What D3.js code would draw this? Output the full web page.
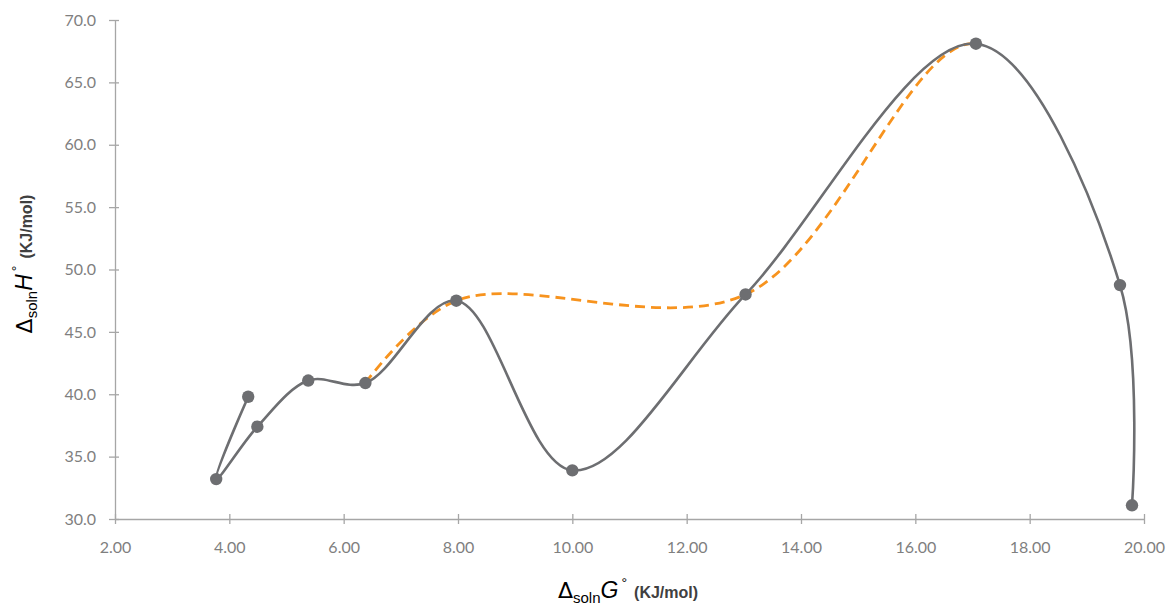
<!DOCTYPE html>
<html>
<head>
<meta charset="utf-8">
<script src="https://cdn.jsdelivr.net/npm/d3@7"></script>
<style>
  html, body { margin: 0; padding: 0; background: #fff; }
  svg { display: block; }
</style>
</head>
<body>
<svg id="chart" width="1168" height="606"></svg>
<script>
// ΔsolnG° (x) and ΔsolnH° (y), in drawing order of the measured series
const gValues = [4.33, 3.77, 4.49, 5.38, 6.38, 7.97, 10.00, 13.03, 17.06, 19.58, 19.79];
const hValues = [39.8, 33.2, 37.4, 41.1, 40.9, 47.5, 33.9, 48.0, 68.1, 48.75, 31.1];

// dashed series: same points with the 10.00 point left out
const trendG = [6.38, 7.97, 13.03, 17.06, 19.58, 19.79];
const trendH = [40.9, 47.5, 48.0, 68.1, 48.75, 31.1];
// the dashed series is shown only up to this ΔsolnG°
const trendEnd = 17.06;

const xTicks = [2, 4, 6, 8, 10, 12, 14, 16, 18, 20];
const yTicks = [30, 35, 40, 45, 50, 55, 60, 65, 70];

const svg = d3.select("#chart");
const plot = { left: 115, right: 1144, top: 20, bottom: 519 };

const x = d3.scaleLinear().domain([2, 20]).range([plot.left, plot.right]);
const y = d3.scaleLinear().domain([30, 70]).range([plot.bottom, plot.top]);

const axisColor = "#a6a6a6";
const labelColor = "#7f7f7f";
const lineColor = "#6d6e71";
const trendColor = "#f7931e";
const tickFont = "Lato, 'Noto Sans', sans-serif";

// x axis
const xAxis = svg.append("g").attr("transform", `translate(0,${plot.bottom})`)
  .call(d3.axisBottom(x).tickValues(xTicks).tickFormat(d3.format(".2f")).tickSizeInner(5).tickSizeOuter(0).tickPadding(18));
xAxis.select(".domain").attr("stroke", axisColor).attr("stroke-width", 1.3);
xAxis.selectAll(".tick line").attr("stroke", axisColor).attr("stroke-width", 1.3).attr("y1", -5);
xAxis.selectAll(".tick text").attr("fill", labelColor).style("font-family", tickFont).style("font-size", "16px");

// y axis
const yAxis = svg.append("g").attr("transform", `translate(${plot.left},0)`)
  .call(d3.axisLeft(y).tickValues(yTicks).tickFormat(d3.format(".1f")).tickSizeInner(6).tickSizeOuter(0).tickPadding(13));
yAxis.select(".domain").attr("stroke", axisColor).attr("stroke-width", 1.3);
yAxis.selectAll(".tick line").attr("stroke", axisColor).attr("stroke-width", 1.3).attr("x1", 4);
yAxis.selectAll(".tick text").attr("fill", labelColor).style("font-family", tickFont).style("font-size", "16px");

const pts = gValues.map((g, i) => [g, hValues[i]]);
const trendPts = trendG.map((g, i) => [g, trendH[i]]);

const line = d3.line().x(d => x(d[0])).y(d => y(d[1])).curve(d3.curveCatmullRom.alpha(0.5));

svg.append("defs").append("clipPath").attr("id", "trend-clip")
  .append("rect")
  .attr("x", 0).attr("y", 0)
  .attr("width", x(trendEnd)).attr("height", plot.bottom);

// dashed series under the measured line
svg.append("path").datum(trendPts)
  .attr("d", line).attr("fill", "none")
  .attr("clip-path", "url(#trend-clip)")
  .attr("stroke", trendColor).attr("stroke-width", 2.8)
  .attr("stroke-dasharray", "10,6");

svg.append("path").datum(pts)
  .attr("d", line).attr("fill", "none")
  .attr("stroke", lineColor).attr("stroke-width", 2.6);

svg.append("g").selectAll("circle").data(pts).join("circle")
  .attr("cx", d => x(d[0])).attr("cy", d => y(d[1])).attr("r", 6.2)
  .attr("fill", lineColor);

// axis titles
const titleFont = "'Liberation Sans', Arial, sans-serif";
function addTitle(g, sym) {
  const t = g.append("text").attr("fill", "#000").style("font-family", titleFont);
  t.append("tspan").text("Δ").style("font-size", "22px").style("font-family", "'DejaVu Sans', sans-serif");
  t.append("tspan").text("soln").style("font-size", "15px").attr("dy", 5);
  t.append("tspan").text(sym).style("font-size", "23px").style("font-style", "italic").attr("dy", -5);
  t.append("tspan").text("°").style("font-size", "14px").attr("dy", -10).attr("dx", 3);
  t.append("tspan").text("(KJ/mol)").attr("fill", "#404040")
    .style("font-size", "16px").style("font-weight", "bold").attr("dy", 10).attr("dx", 7);
  return t;
}
addTitle(svg.append("g").attr("transform", "translate(628,598)"), "G").attr("text-anchor", "middle");
addTitle(svg.append("g").attr("transform", "translate(32,264) rotate(-90)"), "H").attr("text-anchor", "middle");
</script>
</body>
</html>
